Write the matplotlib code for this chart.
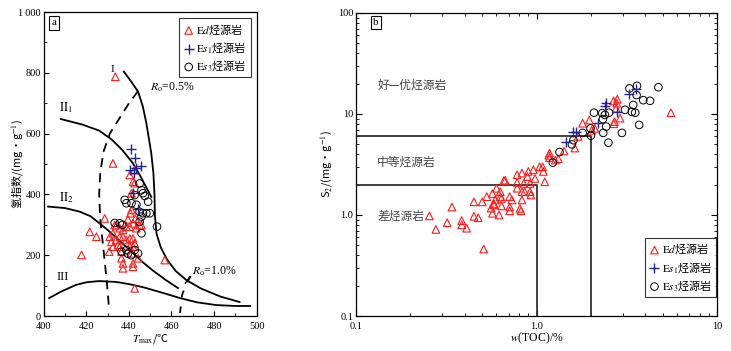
import matplotlib
matplotlib.use("Agg")
import matplotlib.pyplot as plt
from matplotlib.font_manager import FontProperties
from matplotlib.ticker import MultipleLocator, FixedLocator, NullFormatter, LogLocator

plt.rcParams['font.family'] = ['Liberation Serif', 'Noto Sans CJK SC', 'DejaVu Sans']
plt.rcParams['mathtext.fontset'] = 'stix'

cjk = FontProperties(family=['Noto Sans CJK SC'], size=8)
cjk_lab = FontProperties(family=['Noto Sans CJK SC'], size=8)

# ---- panel a: Tmax vs HI ----
ed_T = [433.6, 432.5, 440.4, 441.9, 441.2, 442.7, 428.6, 441.2, 433.3, 435.7,
        438.8, 441.9, 443.5, 445.9, 431.0, 434.0, 437.2, 440.4, 442.7, 432.5,
        435.7, 441.9, 421.6, 424.7, 417.7, 430.7, 456.8, 442.7, 440.7, 434.1,
        437.2, 432.5, 440.4, 445.0, 435.7, 431.8, 438.8, 441.9, 434.9, 440.4,
        436.5, 441.2, 444.3, 436.5, 437.2, 437.2, 441.9, 441.9, 443.0, 439.5, 442.5]
ed_HI = [787, 502, 464, 442, 404, 437, 321, 349, 299, 289,
         294, 305, 289, 299, 261, 250, 261, 255, 239, 228,
         228, 228, 277, 261, 201, 212, 184, 91, 338, 299,
         283, 272, 294, 299, 261, 244, 250, 255, 234, 228,
         212, 206, 190, 190, 173, 157, 162, 173, 320, 318, 480]
es1_T = [440.8, 443.0, 445.9, 440.4, 443.5, 442.0, 444.3, 442.5]
es1_HI = [549, 519, 494, 480, 487, 404, 351, 470]
es3_T = [445.0, 445.9, 446.6, 447.4, 449.0, 442.7, 438.0, 438.8, 441.2, 443.5,
         445.0, 446.6, 448.2, 449.8, 445.9, 453.2, 435.7, 433.3, 436.5, 438.8,
         444.3, 442.7, 445.9, 445.0, 437.0, 439.5, 441.0]
es3_HI = [436, 414, 404, 395, 376, 398, 382, 371, 371, 366,
          343, 338, 338, 338, 327, 294, 305, 306, 212, 217,
          206, 217, 272, 310, 300, 205, 200]

# kerogen type boundary curves
typeI_T = [437.6, 441, 444.3, 446.5, 448.2, 450.5, 451.5, 452, 452.2, 453, 455, 458, 462, 467, 474, 483, 492]
typeI_HI = [804, 772, 738, 690, 634, 535, 470, 400, 330, 270, 225, 185, 148, 118, 90, 64, 46]
typeII1_T = [408, 418, 426, 432, 437, 441.8, 445, 448, 450.5]
typeII1_HI = [648, 630, 610, 580, 545, 503, 465, 425, 392]
typeII2_T = [402, 410, 417, 422, 426, 430, 434, 438, 442, 446, 451, 457, 463]
typeII2_HI = [360, 355, 343, 328, 306, 283, 258, 232, 207, 180, 151, 120, 92]
typeIII_T = [402.5, 408, 415, 420, 426, 434, 440, 446.5, 455, 464, 472, 481, 490, 497]
typeIII_HI = [59, 80, 102, 111, 115, 112, 105, 95, 78, 59, 45, 36, 33, 33]
ro05_T = [444.3, 440, 435.5, 431, 428, 426.5, 426, 426.5, 428, 429.5, 430.7]
ro05_HI = [740, 700, 650, 600, 540, 470, 400, 320, 220, 120, 20]
ro10_T = [469, 467, 465, 464]
ro10_HI = [132, 105, 70, 10]

# ---- panel b: TOC vs S2 ----
ed_toc = [5.55, 2.67, 2.8, 2.78, 2.76, 2.9, 2.7, 2.68, 1.8, 1.96, 2.1, 2.02, 1.7, 1.63, 1.42,
          1.18, 1.18, 1.27, 1.08, 1.32, 1.17, 1.11, 1.04, 1.09, 0.96, 0.9, 0.83, 0.78, 0.89,
          0.98, 0.78, 0.85, 0.92, 0.67, 0.78, 0.83, 0.86, 0.92, 0.6, 0.63, 0.57, 0.53, 0.5,
          0.45, 0.59, 0.64, 0.71, 0.73, 0.83, 0.58, 0.64, 0.71, 0.81, 0.34, 0.255, 0.277,
          0.32, 0.385, 0.385, 0.41, 0.45, 0.475, 0.51, 0.56, 0.57, 0.62, 0.58, 0.66, 0.71,
          0.82, 0.93, 0.63]
ed_s2 = [10.3, 13.5, 14.0, 12.8, 11.4, 9.1, 8.4, 8.0, 8.1, 8.7, 7.2, 6.9, 6.0, 4.6, 4.3,
         4.1, 3.7, 3.5, 3.0, 3.6, 3.9, 2.13, 3.0, 2.7, 2.8, 2.7, 2.6, 2.5, 2.4,
         2.3, 2.1, 2.05, 2.05, 2.2, 1.84, 1.7, 1.7, 1.7, 1.84, 1.7, 1.63, 1.52, 1.35,
         1.35, 1.41, 1.46, 1.52, 1.41, 1.41, 1.26, 1.23, 1.2, 1.16, 1.2, 0.98, 0.72,
         0.84, 0.88, 0.80, 0.74, 0.97, 0.94, 0.46, 1.17, 1.04, 1.0, 1.3, 2.2, 1.1,
         1.1, 1.58, 1.52]
es1_toc = [3.27, 3.55, 2.39, 2.44, 2.8, 2.18, 1.6, 1.65, 1.46]
es1_s2 = [15.8, 17.6, 12.0, 12.8, 10.5, 8.2, 6.7, 6.7, 5.3]
es3_toc = [3.27, 3.6, 4.73, 3.58, 3.9, 4.25, 3.43, 3.37, 3.52, 3.09, 3.7, 2.97, 2.5, 2.34,
           2.43, 2.33, 2.39, 2.52, 2.31, 2.08, 1.99, 2.0, 1.8, 1.6, 1.34, 1.23, 1.57]
es3_s2 = [17.9, 19.0, 18.4, 15.4, 13.7, 13.5, 12.3, 10.5, 10.3, 11.0, 7.8, 6.5, 5.2, 6.5,
          7.5, 8.9, 9.8, 10.3, 10.2, 10.3, 7.2, 6.1, 6.5, 5.5, 4.2, 3.3, 5.0]

red = '#ff1a1a'
blue = '#23238e'

fig = plt.figure(figsize=(7.31, 3.51), dpi=100)
ax1 = fig.add_axes([0.060, 0.0997, 0.291, 0.866])
ax2 = fig.add_axes([0.487, 0.0997, 0.494, 0.8633])

# panel a
for xs, ys in [(typeI_T, typeI_HI), (typeII1_T, typeII1_HI), (typeII2_T, typeII2_HI), (typeIII_T, typeIII_HI)]:
    ax1.plot(xs, ys, color='black', lw=1.3)
ax1.plot(ro05_T, ro05_HI, color='black', lw=1.3, dashes=(5, 3.5))
ax1.plot(ro10_T, ro10_HI, color='black', lw=1.3, dashes=(4, 5))

ax1.scatter(ed_T, ed_HI, marker='^', s=30, facecolors='none', edgecolors=red, linewidths=0.8, zorder=3,
            label=r'$\mathrm{E}\mathit{d}$烃源岩')
ax1.scatter(es1_T, es1_HI, marker='+', s=45, color=blue, linewidths=1.0, zorder=4,
            label=r'$\mathrm{E}\mathit{s}_{1}$烃源岩')
ax1.scatter(es3_T, es3_HI, marker='o', s=30, facecolors='none', edgecolors='black', linewidths=0.7, zorder=3,
            label=r'$\mathrm{E}\mathit{s}_{3}$烃源岩')

ax1.text(432, 812, 'I', fontsize=8, ha='center', va='center')
ax1.text(410.5, 686, r'$\mathrm{II}_{1}$', fontsize=9, ha='center', va='center')
ax1.text(410.5, 388, r'$\mathrm{II}_{2}$', fontsize=9, ha='center', va='center')
ax1.text(409, 128, 'III', fontsize=9, ha='center', va='center')
ax1.text(450, 753, r'$R_{\mathrm{o}}$=0.5%', fontsize=8.5, ha='left', va='center')
ax1.text(469.5, 146, r'$R_{\mathrm{o}}$=1.0%', fontsize=8.5, ha='left', va='center')
ax1.plot([466.5, 468.5], [108, 128], color='black', lw=1.0)

ax1.set_xlim(400, 500)
ax1.set_ylim(0, 1000)
ax1.xaxis.set_major_locator(MultipleLocator(20))
ax1.xaxis.set_minor_locator(MultipleLocator(10))
ax1.yaxis.set_minor_locator(MultipleLocator(100))
ax1.set_yticks([0, 200, 400, 600, 800, 1000])
ax1.set_yticklabels(['0', '200', '400', '600', '800', '1\u2009000'])
ax1.tick_params(which='both', direction='in', labelsize=7.5, pad=2)
ax1.tick_params(axis='x', pad=4)
ax1.tick_params(which='major', length=3.5)
ax1.tick_params(which='minor', length=2)
ax1.set_xlabel(r'$T_{\mathrm{max}}$/℃', fontproperties=cjk_lab, labelpad=0)
ax1.set_ylabel(r'氢指数/(mg・g$^{-1}$)', fontproperties=cjk_lab, labelpad=0)
ax1.yaxis.set_label_coords(-0.09, 0.5)
ax1.text(0.047, 0.964, 'a', transform=ax1.transAxes, fontsize=8, ha='center', va='center',
         bbox=dict(boxstyle='square,pad=0.2', fc='white', ec='black', lw=0.8))
leg1 = ax1.legend(loc='upper right', bbox_to_anchor=(0.972, 0.98), borderaxespad=0, prop=cjk,
                  frameon=True, fancybox=False, edgecolor='black', handletextpad=0.2,
                  handlelength=1.0, borderpad=0.35, labelspacing=0.3)
leg1.get_frame().set_linewidth(0.8)

# panel b
ax2.set_xscale('log')
ax2.set_yscale('log')
ax2.set_xlim(0.1, 10)
ax2.set_ylim(0.1, 100)
ax2.plot([0.1, 2, 2], [6, 6, 0.1], color='#333333', lw=1.3)
ax2.plot([0.1, 1, 1], [2, 2, 0.1], color='#333333', lw=1.3)

ax2.scatter(ed_toc, ed_s2, marker='^', s=30, facecolors='none', edgecolors=red, linewidths=0.8, zorder=3,
            label=r'$\mathrm{E}\mathit{d}$烃源岩')
ax2.scatter(es1_toc, es1_s2, marker='+', s=45, color=blue, linewidths=1.0, zorder=4,
            label=r'$\mathrm{E}\mathit{s}_{1}$烃源岩')
ax2.scatter(es3_toc, es3_s2, marker='o', s=30, facecolors='none', edgecolors='black', linewidths=0.7, zorder=3,
            label=r'$\mathrm{E}\mathit{s}_{3}$烃源岩')

zone_font = FontProperties(family=['Noto Sans CJK SC'], size=8.5)
ax2.text(0.131, 19.4, '好—优烃源岩', fontproperties=zone_font, color='#444444', ha='left', va='center')
ax2.text(0.131, 3.35, '中等烃源岩', fontproperties=zone_font, color='#444444', ha='left', va='center')
ax2.text(0.131, 0.98, '差烃源岩', fontproperties=zone_font, color='#444444', ha='left', va='center')

ax2.xaxis.set_major_locator(FixedLocator([0.1, 1, 10]))
ax2.set_xticklabels(['0.1', '1.0', '10'])
ax2.yaxis.set_major_locator(FixedLocator([0.1, 1, 10, 100]))
ax2.set_yticklabels(['0.1', '1.0', '10', '100'])
ax2.xaxis.set_minor_locator(LogLocator(base=10, subs=range(2, 10)))
ax2.yaxis.set_minor_locator(LogLocator(base=10, subs=range(2, 10)))
ax2.xaxis.set_minor_formatter(NullFormatter())
ax2.yaxis.set_minor_formatter(NullFormatter())
ax2.tick_params(which='both', direction='in', top=True, right=True, labelsize=7.5, pad=2)
ax2.tick_params(axis='x', pad=4)
ax2.tick_params(which='major', length=4)
ax2.tick_params(which='minor', length=2.2)
ax2.set_xlabel(r'$w$(TOC)/%', fontsize=8.5, labelpad=0)
ax2.set_ylabel(r'S$_{2}$/(mg・g$^{-1}$)', fontproperties=cjk_lab, labelpad=2)
ax2.text(0.055, 0.968, 'b', transform=ax2.transAxes, fontsize=8, ha='center', va='center',
         bbox=dict(boxstyle='square,pad=0.2', fc='white', ec='black', lw=0.8))
leg2 = ax2.legend(loc='lower right', bbox_to_anchor=(0.998, 0.063), borderaxespad=0, prop=cjk,
                  frameon=True, fancybox=False, edgecolor='black', handletextpad=0.2,
                  handlelength=1.0, borderpad=0.35, labelspacing=0.3)
leg2.get_frame().set_linewidth(0.8)

for ax in (ax1, ax2):
    for sp in ax.spines.values():
        sp.set_linewidth(0.9)

fig.savefig('out.png', dpi=100)
